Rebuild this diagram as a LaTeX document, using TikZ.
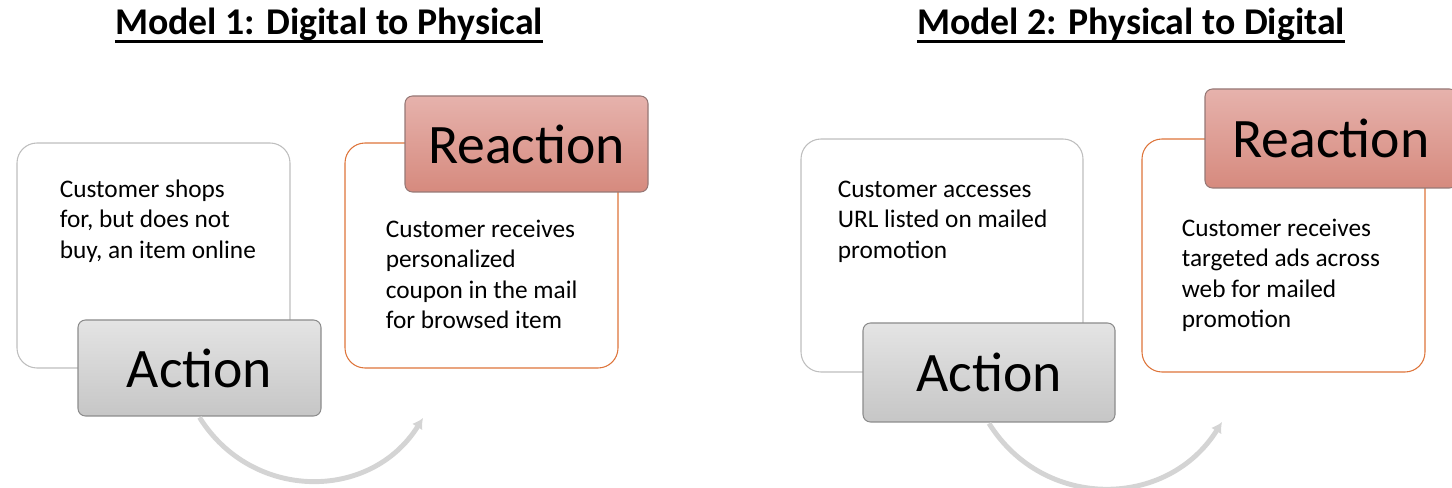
\documentclass[tikz,border=0pt]{standalone}
\usepackage{fontspec}
\setmainfont{Carlito}
\usepackage{tikz}
\usetikzlibrary{
  positioning,
  arrows.meta
}
\definecolor{cardline}{RGB}{190,190,190}
\definecolor{orangeline}{RGB}{222,116,58}
\definecolor{acttop}{RGB}{228,228,228}
\definecolor{actbot}{RGB}{198,198,198}
\definecolor{actline}{RGB}{140,140,140}
\definecolor{reacttop}{RGB}{230,178,172}
\definecolor{reactbot}{RGB}{214,138,126}
\definecolor{reactline}{RGB}{150,120,118}
\definecolor{loopgray}{RGB}{212,212,212}
\tikzset{
  card/.style={draw=cardline, line width=0.6pt, fill=white, rounded corners=0.4cm},
  rcard/.style={card, draw=orangeline},
  body/.style={inner sep=0pt, align=left, font=\fontsize{14.4}{17.3}\selectfont},
  tag/.style={draw=actline, line width=0.6pt, rounded corners=0.15cm,
    top color=acttop, bottom color=actbot, font=\fontsize{31.7}{38}\selectfont},
  rtag/.style={tag, draw=reactline, top color=reacttop, bottom color=reactbot},
  heading/.style={inner xsep=0pt, font=\bfseries\fontsize{21.5}{26}\selectfont},
  uline/.style={line width=1.7pt},
  loop/.style={draw=loopgray, line width=2.8pt, -{Latex[length=6pt,width=7pt]}}
}
\begin{document}
\begin{tikzpicture}
  \useasboundingbox (0,0) rectangle (29.04,9.76);
  \node[heading, anchor=base] (title1) at (6.58,9.06) {Model 1: Digital to Physical};
  \node[heading, anchor=base] (title2) at (22.62,9.06) {Model 2: Physical to Digital};
  \draw[uline] ([yshift=-0.14cm]title1.base west) -- ([yshift=-0.14cm]title1.base east);
  \draw[uline] ([yshift=-0.14cm]title2.base west) -- ([yshift=-0.14cm]title2.base east);

  \node[card, minimum width=5.46cm, minimum height=4.5cm] (card1) at (3.07,4.65) {};
  \node[rcard, minimum width=5.46cm, minimum height=4.5cm] (rcard1) at (9.63,4.65) {};
  \node[body, below right=0.74cm and 0.86cm of card1.north west] (text1)
    {Customer shops\\for, but does not\\buy, an item online};
  \node[body, below right=1.54cm and 0.82cm of rcard1.north west] (rtext1)
    {Customer receives\\personalized\\coupon in the mail\\for browsed item};

  \node[card, minimum width=5.64cm, minimum height=4.66cm] (card2) at (18.84,4.65) {};
  \node[rcard, minimum width=5.66cm, minimum height=4.66cm] (rcard2) at (25.67,4.65) {};
  \node[body, below right=0.84cm and 0.74cm of card2.north west] (text2)
    {Customer accesses\\URL listed on mailed\\promotion};
  \node[body, below right=1.6cm and 0.8cm of rcard2.north west] (rtext2)
    {Customer receives\\targeted ads across\\web for mailed\\promotion};

  \node[tag, minimum width=4.86cm, minimum height=1.92cm] (act1) at (3.99,2.4) {Action};
  \node[rtag, minimum width=4.86cm, minimum height=1.92cm] (react1) at (10.53,6.88) {Reaction};
  \node[tag, minimum width=5.04cm, minimum height=1.98cm] (act2) at (19.78,2.31) {Action};
  \node[rtag, minimum width=5.04cm, minimum height=1.98cm] (react2) at (26.62,6.99) {Reaction};

  \coordinate (tip1) at (8.46,1.40);
  \coordinate (tip2) at (24.44,1.32);
  \draw[loop] ([yshift=-0.5pt]act1.south) to[out=-58, in=-122, looseness=1.13] (tip1);
  \draw[loop] ([yshift=-0.5pt]act2.south) to[out=-58, in=-122, looseness=1.13] (tip2);
\end{tikzpicture}
\end{document}
